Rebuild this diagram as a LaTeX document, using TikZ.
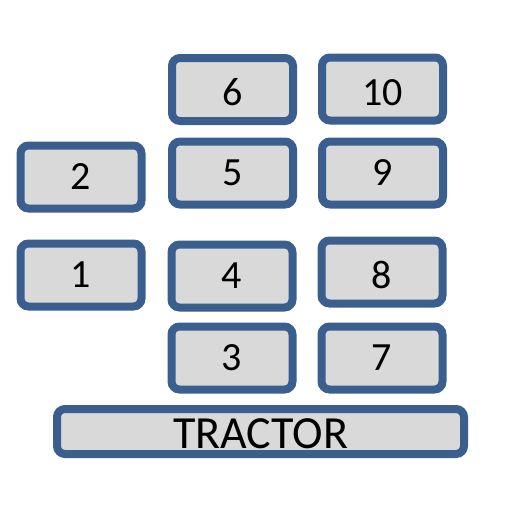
\documentclass[tikz,border=0pt]{standalone}
\usepackage{fontspec}
\setmainfont{Carlito}
\definecolor{bordblue}{HTML}{3A5F8E}
\definecolor{boxgray}{HTML}{D9D9D9}
\begin{document}
\begin{tikzpicture}[x=1pt,y=-1pt,
  box/.style={draw=bordblue,fill=boxgray,line width=8pt,rounded corners=8pt,
    minimum width=121pt,minimum height=63pt,inner sep=0pt,
    text height=25pt,text depth=0pt,
    font=\fontsize{40}{40}\selectfont},
  low/.style={text height=32pt},
  bigbox/.style={box,minimum width=407pt,minimum height=45pt,
    text height=34pt,text depth=0pt,
    font=\fontsize{46}{46}\selectfont}]
\useasboundingbox (0,0) rectangle (512,512);
\node[box,low] (n6) at (232.5,89.5) {6};
\node[box,low] (n10) at (382.5,89) {10};
\node[box] (n5) at (232.5,173) {5};
\node[box] (n9) at (382.5,173) {9};
\node[box] (n2) at (81,177) {2};
\node[box] (n1) at (81,275) {1};
\node[box] (n4) at (232,276) {4};
\node[box,low] (n8) at (382,272) {8};
\node[box] (n3) at (232,358) {3};
\node[box] (n7) at (382,358) {7};
\node[bigbox] (tr) at (260.5,431.5) {TRACTOR};
\end{tikzpicture}
\end{document}
